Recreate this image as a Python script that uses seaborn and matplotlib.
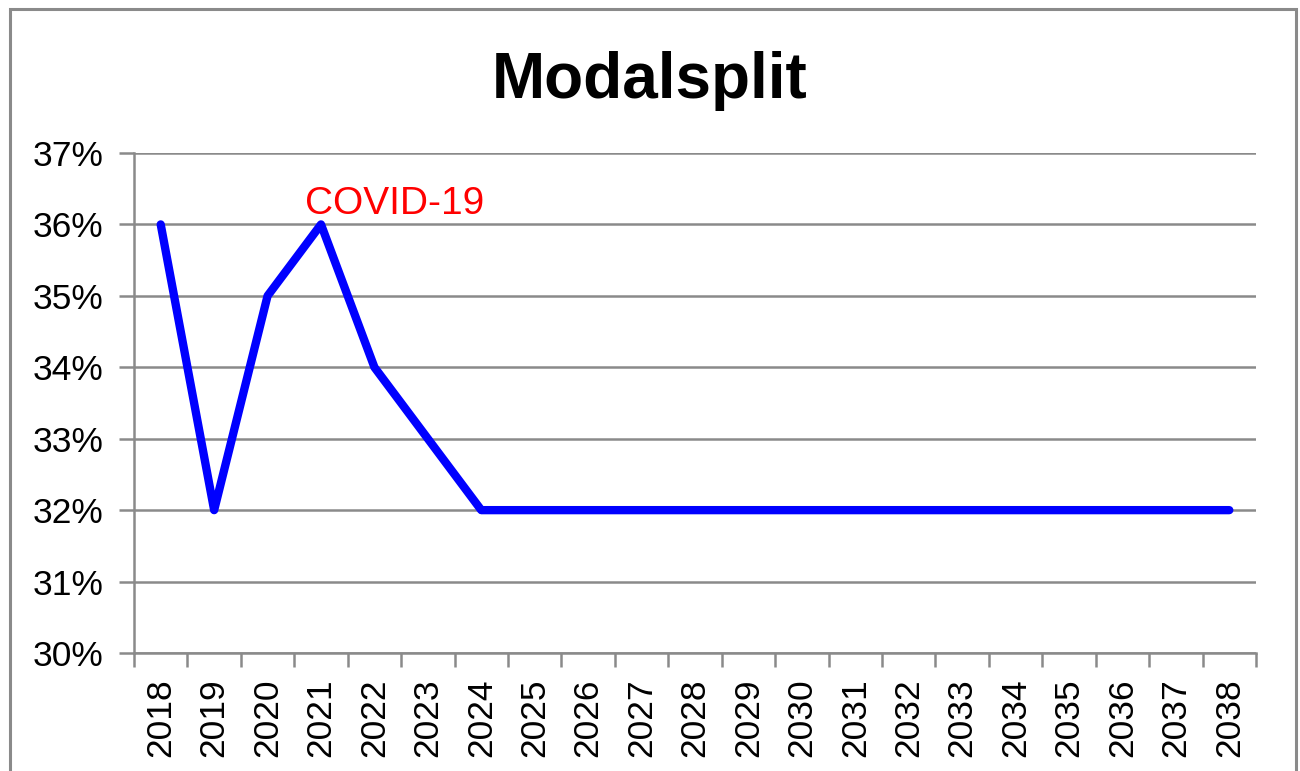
import matplotlib
matplotlib.use("Agg")
import matplotlib.pyplot as plt
import seaborn as sns
import pandas as pd
import numpy as np
from matplotlib.patches import Rectangle

years = [str(y) for y in range(2018, 2039)]
values = [36, 32, 35, 36, 34, 33, 32, 32, 32, 32, 32, 32, 32, 32, 32, 32, 32, 32, 32, 32, 32]
y_ticks = [30, 31, 32, 33, 34, 35, 36, 37]
title = "Modalsplit"
note = "COVID-19"

sns.set_theme(style="white")
plt.rcParams['font.family'] = ['Liberation Sans', 'DejaVu Sans']
plt.rcParams['text.color'] = 'black'
plt.rcParams['xtick.color'] = 'black'
plt.rcParams['ytick.color'] = 'black'

df = pd.DataFrame({"year": years, "value": values})
df["pos"] = np.arange(len(years))

fig = plt.figure(figsize=(13, 7.71), dpi=100)
ax = fig.add_axes([134/1300, 1-653/771, (1256-134)/1300, (653-153)/771])

grid_c = "#8a8a8a"
sns.lineplot(data=df, x="pos", y="value", ax=ax, color="#0000FF", linewidth=6.0,
             solid_capstyle="round", solid_joinstyle="round", zorder=3)

ax.set_xlim(-0.5, len(years) - 0.5)
ax.set_ylim(y_ticks[0], y_ticks[-1])
ax.set_yticks(y_ticks)
ax.set_yticklabels([f"{v}%" for v in y_ticks], fontsize=25.5, color="black")
ax.yaxis.grid(True, color=grid_c, linewidth=1.8, zorder=0)
ax.xaxis.grid(False)

ax.set_xticks(np.arange(-0.5, len(years), 1.0))
ax.set_xticklabels([])
ax.set_xticks(np.arange(len(years)), minor=True)
ax.set_xticklabels(years, minor=True, rotation=90, fontsize=25.5, color="black")
ax.tick_params(axis="x", which="major", direction="out", length=10, width=1.8, color=grid_c, bottom=True)
ax.tick_params(axis="x", which="minor", length=0, pad=18.5, bottom=True)
ax.tick_params(axis="y", direction="out", length=11, width=1.8, color=grid_c, left=True, pad=11)

for s in ["top", "right"]:
    ax.spines[s].set_visible(False)
for s in ["left", "bottom"]:
    ax.spines[s].set_color(grid_c)
    ax.spines[s].set_linewidth(1.8)

ax.set_xlabel("")
ax.set_ylabel("")

ax.text(2.7, 36.15, note, color="#FF0000", fontsize=28, ha="left", va="baseline")

fig.text(650/1300, 1-98/771, title, fontsize=46, fontweight="bold", ha="center", va="baseline",
         color="black")

border = Rectangle((10/1300, -0.05), (1296-10)/1300, 1 - 9/771 + 0.05, transform=fig.transFigure,
                   fill=False, edgecolor=grid_c, linewidth=2.2)
fig.patches.append(border)

fig.savefig("out.png", dpi=100)
